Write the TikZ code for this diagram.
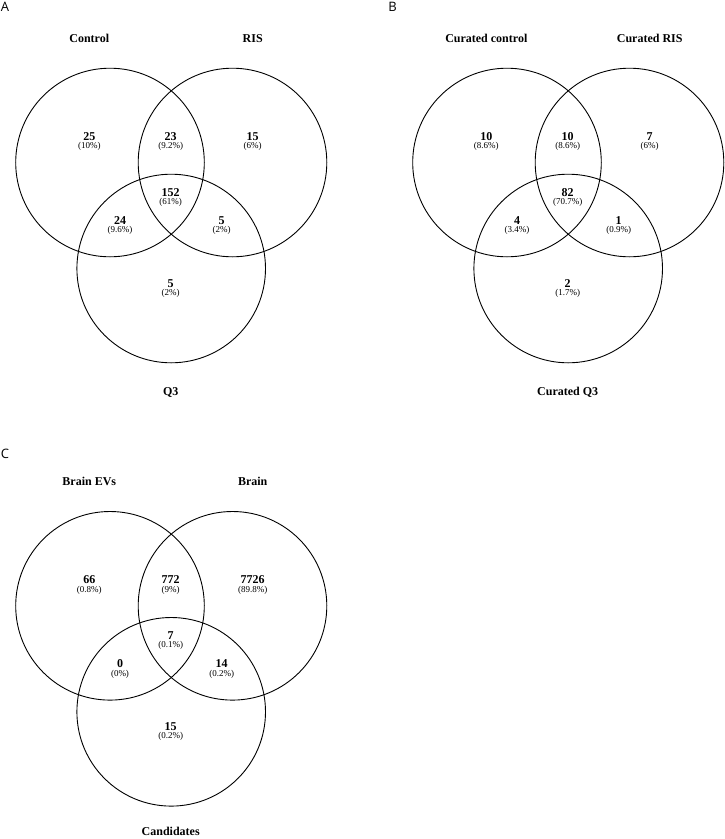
\documentclass[tikz,border=0pt]{standalone}
\usepackage{fontspec}
\setmainfont{Liberation Serif}
\newfontfamily\panelfont{Open Sans}
\begin{document}
\begin{tikzpicture}[x=1pt,y=-1pt,
  venn/.style={draw, circle, minimum size=188.6pt, inner sep=0pt, line width=0.9pt},
  setlabel/.style={font=\fontsize{12}{14}\selectfont\bfseries, inner sep=0pt},
  count/.style={font=\fontsize{12}{14}\selectfont\bfseries, inner sep=0pt},
  pct/.style={font=\fontsize{9}{11}\selectfont, inner sep=0pt},
  panel/.style={font=\panelfont\fontsize{13}{15}\selectfont, inner sep=0pt}]
\useasboundingbox (0,0) rectangle (724,839);

% ---------- Panel A ----------
\node[panel] (pA) at (5,6.5) {A};
\begin{scope}
  \node[venn] (aL) at (110,162.5) {};
  \node[venn] (aR) at (232.5,162.5) {};
  \node[venn] (aB) at (171.2,268.5) {};
  \node[setlabel] (aLl) at (89.3,38.3) {Control};
  \node[setlabel] (aRl) at (252.7,38.3) {RIS};
  \node[setlabel] (aBl) at (170.7,392.7) {Q3};
  \node[count] (a1) at (89.3,136.7) {25};   \node[pct] (a1p) at (89.3,146.7) {(10\%)};
  \node[count] (a2) at (170.7,136.7) {23};  \node[pct] (a2p) at (170.7,146.7) {(9.2\%)};
  \node[count] (a3) at (252.7,136.7) {15};  \node[pct] (a3p) at (252.7,146.7) {(6\%)};
  \node[count] (a4) at (170.7,192.3) {152}; \node[pct] (a4p) at (170.7,202.3) {(61\%)};
  \node[count] (a5) at (120,220.7) {24};    \node[pct] (a5p) at (120,230.7) {(9.6\%)};
  \node[count] (a6) at (221.7,220.7) {5};   \node[pct] (a6p) at (221.7,230.7) {(2\%)};
  \node[count] (a7) at (170.7,283.3) {5};   \node[pct] (a7p) at (170.7,293.3) {(2\%)};
\end{scope}

% ---------- Panel B ----------
\node[panel] (pB) at (392.7,6.5) {B};
\begin{scope}[shift={(397,0)}]
  \node[venn] (bL) at (110,162.5) {};
  \node[venn] (bR) at (232.5,162.5) {};
  \node[venn] (bB) at (171.2,268.5) {};
  \node[setlabel] (bLl) at (89.3,38.3) {Curated control};
  \node[setlabel] (bRl) at (252.7,38.3) {Curated RIS};
  \node[setlabel] (bBl) at (170.7,392.7) {Curated Q3};
  \node[count] (b1) at (89.3,136.7) {10};   \node[pct] (b1p) at (89.3,146.7) {(8.6\%)};
  \node[count] (b2) at (170.7,136.7) {10};  \node[pct] (b2p) at (170.7,146.7) {(8.6\%)};
  \node[count] (b3) at (252.7,136.7) {7};   \node[pct] (b3p) at (252.7,146.7) {(6\%)};
  \node[count] (b4) at (170.7,192.3) {82};  \node[pct] (b4p) at (170.7,202.3) {(70.7\%)};
  \node[count] (b5) at (120,220.7) {4};     \node[pct] (b5p) at (120,230.7) {(3.4\%)};
  \node[count] (b6) at (221.7,220.7) {1};   \node[pct] (b6p) at (221.7,230.7) {(0.9\%)};
  \node[count] (b7) at (170.7,283.3) {2};   \node[pct] (b7p) at (170.7,293.3) {(1.7\%)};
\end{scope}

% ---------- Panel C ----------
\node[panel] (pC) at (5,454) {C};
\begin{scope}[shift={(0,443.3)}]
  \node[venn] (cL) at (110,162.5) {};
  \node[venn] (cR) at (232.5,162.5) {};
  \node[venn] (cB) at (171.2,268.5) {};
  \node[setlabel] (cLl) at (89.3,38.3) {Brain EVs};
  \node[setlabel] (cRl) at (252.7,38.3) {Brain};
  \node[setlabel] (cBl) at (170.7,388) {Candidates};
  \node[count] (c1) at (89.3,136.7) {66};    \node[pct] (c1p) at (89.3,146.7) {(0.8\%)};
  \node[count] (c2) at (170.7,136.7) {772};  \node[pct] (c2p) at (170.7,146.7) {(9\%)};
  \node[count] (c3) at (252.7,136.7) {7726}; \node[pct] (c3p) at (252.7,146.7) {(89.8\%)};
  \node[count] (c4) at (170.7,192.3) {7};    \node[pct] (c4p) at (170.7,202.3) {(0.1\%)};
  \node[count] (c5) at (120,220.7) {0};      \node[pct] (c5p) at (120,230.7) {(0\%)};
  \node[count] (c6) at (221.7,220.7) {14};   \node[pct] (c6p) at (221.7,230.7) {(0.2\%)};
  \node[count] (c7) at (170.7,283.3) {15};   \node[pct] (c7p) at (170.7,293.3) {(0.2\%)};
\end{scope}
\end{tikzpicture}
\end{document}
